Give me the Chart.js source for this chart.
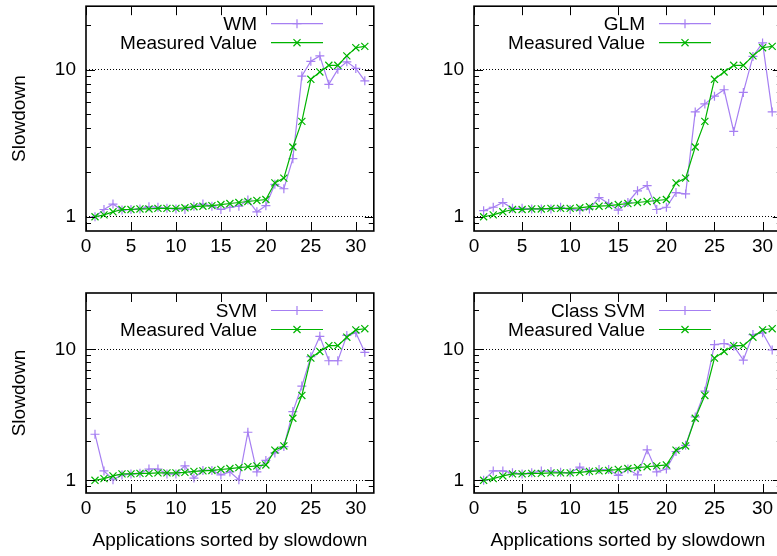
<!DOCTYPE html>
<html>
<head>
<meta charset="utf-8">
<script src="https://cdn.jsdelivr.net/npm/chart.js@4.4.0/dist/chart.umd.min.js"></script>
<style>
html, body { margin: 0; padding: 0; background: #fff; overflow: hidden; width: 777px; height: 556px; }
#wrap { position: relative; width: 777px; height: 556px; overflow: hidden; }
canvas { position: absolute; }
</style>
</head>
<body>
<div id="wrap">
  <canvas id="c1" width="380" height="262" style="left:0px;top:0px"></canvas>
  <canvas id="c2" width="400" height="262" style="left:388px;top:0px"></canvas>
  <canvas id="c3" width="380" height="294" style="left:0px;top:262px"></canvas>
  <canvas id="c4" width="400" height="294" style="left:388px;top:262px"></canvas>
</div>
<script>
// applications, sorted by measured slowdown
var apps = [1, 2, 3, 4, 5, 6, 7, 8, 9, 10, 11, 12, 13, 14, 15, 16, 17, 18, 19, 20, 21, 22, 23, 24, 25, 26, 27, 28, 29, 30, 31];

var measured = [1.00, 1.03, 1.08, 1.12, 1.12, 1.13, 1.13, 1.14, 1.14, 1.14, 1.15, 1.17, 1.18, 1.19, 1.21, 1.23,
                1.25, 1.27, 1.29, 1.31, 1.70, 1.83, 2.98, 4.45, 8.6, 9.65, 10.7, 10.7, 12.4, 14.1, 14.4];

var wm = [1.00, 1.12, 1.22, 1.11, 1.12, 1.13, 1.17, 1.16, 1.14, 1.13, 1.12, 1.18, 1.22, 1.18, 1.12, 1.16,
          1.18, 1.30, 1.08, 1.19, 1.66, 1.55, 2.48, 9.05, 11.4, 12.4, 7.95, 10.05, 11.3, 10.2, 8.4];

var glm = [1.10, 1.16, 1.25, 1.14, 1.14, 1.13, 1.13, 1.13, 1.16, 1.12, 1.11, 1.13, 1.35, 1.23, 1.11, 1.25,
           1.50, 1.63, 1.12, 1.16, 1.46, 1.43, 5.16, 5.85, 6.6, 7.3, 3.8, 7.0, 12.3, 15.2, 5.16];

var svm = [2.25, 1.18, 1.01, 1.10, 1.12, 1.13, 1.22, 1.22, 1.12, 1.12, 1.29, 1.04, 1.19, 1.19, 1.10, 1.16,
           1.01, 2.33, 1.16, 1.42, 1.62, 1.81, 3.35, 5.25, 8.8, 12.6, 8.2, 8.2, 12.8, 13.4, 9.5];

var classSvm = [1.00, 1.18, 1.18, 1.14, 1.12, 1.14, 1.18, 1.17, 1.15, 1.14, 1.26, 1.17, 1.21, 1.21, 1.09, 1.22,
                1.10, 1.71, 1.16, 1.22, 1.66, 1.85, 3.05, 4.8, 10.9, 11.1, 10.6, 8.3, 13.0, 13.4, 9.9];

var xTicks = [0, 5, 10, 15, 20, 25, 30];
var yTicks = [0.9, 1, 2, 3, 4, 5, 6, 7, 8, 9, 10, 20];
var yLabelled = [1, 10];

var purple = '#a67ff2';
var green = '#00b400';

Chart.defaults.font.family = "'Liberation Sans', Arial, sans-serif";
Chart.defaults.font.size = 19;
Chart.defaults.color = '#000';

// gnuplot style frame, inward ticks and key
var gnuFrame = {
    id: 'gnuFrame',
    afterDraw: function(chart) {
        var ctx = chart.ctx;
        var a = chart.chartArea;
        var x = chart.scales.x, y = chart.scales.y;
        ctx.save();
        ctx.strokeStyle = '#000';
        ctx.lineWidth = 1;
        ctx.beginPath();
        xTicks.forEach(function(v) {
            var px = Math.round(x.getPixelForValue(v)) + 0.5;
            ctx.moveTo(px, a.bottom); ctx.lineTo(px, a.bottom - 9);
            ctx.moveTo(px, a.top); ctx.lineTo(px, a.top + 9);
        });
        yTicks.forEach(function(v) {
            var py = Math.round(y.getPixelForValue(v)) + 0.5;
            var len = yLabelled.indexOf(v) >= 0 ? 9 : 5;
            ctx.moveTo(a.left, py); ctx.lineTo(a.left + len, py);
            ctx.moveTo(a.right, py); ctx.lineTo(a.right - len, py);
        });
        ctx.stroke();
        ctx.lineWidth = 1.6;
        ctx.strokeRect(a.left, a.top, a.right - a.left, a.bottom - a.top);

        // key, right aligned text with the sample after it
        ctx.font = "19px 'Liberation Sans', Arial, sans-serif";
        ctx.textAlign = 'right';
        ctx.textBaseline = 'middle';
        chart.data.datasets.forEach(function(ds, i) {
            var ky = a.top + 17.5 + i * 19;
            ctx.fillStyle = '#000';
            ctx.fillText(ds.label, a.left + 171, ky + 1);
            ctx.strokeStyle = ds.borderColor;
            ctx.fillStyle = ds.borderColor;
            ctx.lineWidth = ds.borderWidth;
            ctx.beginPath();
            ctx.moveTo(a.left + 185, ky);
            ctx.lineTo(a.left + 237, ky);
            ctx.stroke();
            Chart.helpers.drawPoint(ctx, {
                pointStyle: ds.pointStyle, radius: ds.pointRadius, rotation: 0, borderWidth: ds.pointBorderWidth
            }, a.left + 211, ky);
        });
        ctx.restore();
    }
};

function makeChart(id, name, values, showYTitle, showXTitle, padTop, xHeight) {
    return new Chart(document.getElementById(id), {
        type: 'line',
        data: {
            datasets: [{
                label: name,
                data: apps.map(function(a, i) { return {x: a, y: values[i]}; }),
                borderColor: purple,
                backgroundColor: purple,
                borderWidth: 1.2,
                pointStyle: 'cross',
                pointRadius: 4.5,
                pointBorderWidth: 1.2,
                order: 1
            }, {
                label: 'Measured Value',
                data: apps.map(function(a, i) { return {x: a, y: measured[i]}; }),
                borderColor: green,
                backgroundColor: green,
                borderWidth: 1.2,
                pointStyle: 'crossRot',
                pointRadius: 5,
                pointBorderWidth: 1.2,
                order: 0
            }]
        },
        options: {
            responsive: false,
            animation: false,
            devicePixelRatio: 1,
            layout: { padding: { top: padTop, right: id === 'c1' || id === 'c3' ? 5 : 4.6, left: 0, bottom: 0 } },
            plugins: {
                legend: { display: false },
                tooltip: { enabled: false }
            },
            scales: {
                x: {
                    type: 'linear',
                    min: 0,
                    max: 32,
                    afterBuildTicks: function(s) { s.ticks = xTicks.map(function(v) { return {value: v}; }); },
                    afterFit: function(s) { s.height = xHeight; s.paddingLeft = 0; s.paddingRight = 0; },
                    grid: { display: false, drawTicks: false },
                    border: { display: false },
                    ticks: { autoSkip: false, maxRotation: 0, padding: 4 },
                    title: {
                        display: showXTitle,
                        text: 'Applications sorted by slowdown',
                        padding: { top: 0, bottom: 4 }
                    }
                },
                y: {
                    type: 'logarithmic',
                    min: 0.8,
                    max: 27,
                    afterBuildTicks: function(s) { s.ticks = yTicks.map(function(v) { return {value: v}; }); },
                    afterFit: function(s) { s.width = 86; s.paddingTop = 0; s.paddingBottom = 0; },
                    grid: {
                        drawTicks: false,
                        lineWidth: 1,
                        color: function(c) {
                            return (c.tick && yLabelled.indexOf(c.tick.value) >= 0) ? '#000' : 'rgba(0,0,0,0)';
                        }
                    },
                    border: { display: false, dash: [1, 2] },
                    ticks: {
                        autoSkip: false,
                        padding: 10,
                        callback: function(v) { return yLabelled.indexOf(v) >= 0 ? String(v) : ''; }
                    },
                    title: {
                        display: showYTitle,
                        text: 'Slowdown',
                        padding: { top: 8, bottom: 0 }
                    }
                }
            }
        },
        plugins: [gnuFrame]
    });
}

makeChart('c1', 'WM', wm, true, false, 6, 31);
makeChart('c2', 'GLM', glm, false, false, 6, 31);
makeChart('c3', 'SVM', svm, true, true, 31, 63);
makeChart('c4', 'Class SVM', classSvm, false, true, 31, 63);
</script>
</body>
</html>
